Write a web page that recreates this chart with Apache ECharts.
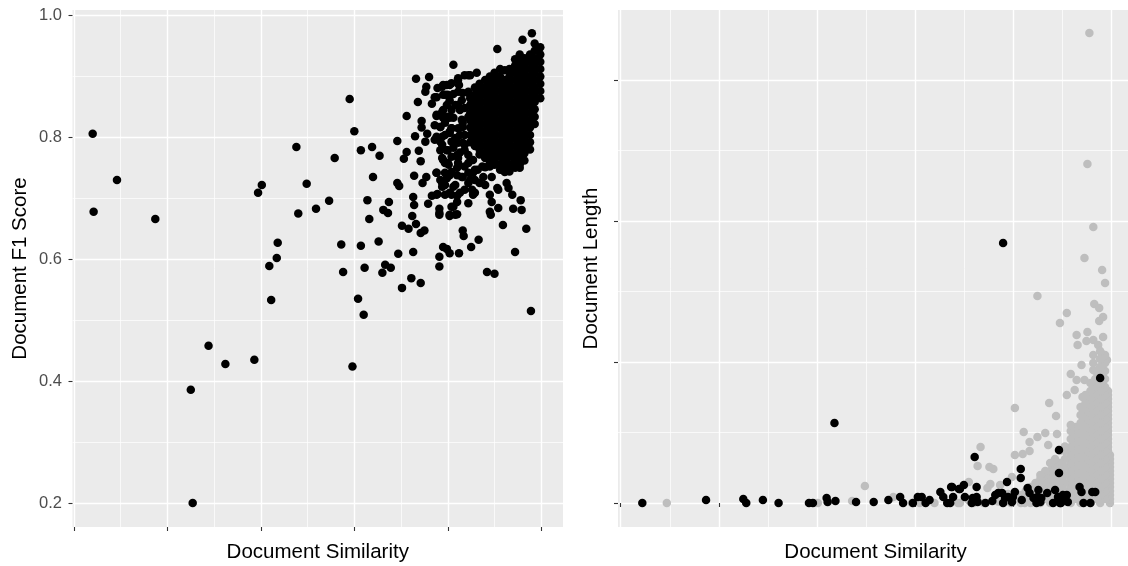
<!DOCTYPE html>
<html>
<head>
<meta charset="utf-8">
<style>html,body{margin:0;padding:0;background:#fff}#c{width:1128px;height:566px}</style>
<script src="https://cdn.jsdelivr.net/npm/echarts@6/dist/echarts.min.js"></script>
</head>
<body>
<div id="c"></div>
<script>
const f1YTicks = [0.2, 0.4, 0.6, 0.8, 1.0];
const f1YMinor = [0.3, 0.5, 0.7, 0.9];
const simTicks = [0.5, 0.6, 0.7, 0.8, 0.9, 1.0];
const simMinor = [0.55, 0.65, 0.75, 0.85, 0.95];
const lenTicks = [0, 5000, 10000, 15000];
const lenMinor = [2500, 7500, 12500];

const f1Sparse = [
[.520,.806],[.546,.730],[.521,.678],[.587,.666],[.625,.386],[.644,.458],[.662,.428],[.693,.435],[.627,.200],[.798,.424],
[.697,.709],[.701,.722],[.738,.784],[.749,.724],[.740,.675],[.759,.683],[.773,.696],[.779,.766],[.711,.533],[.709,.589],
[.717,.602],[.718,.627],[.989,.515],[.786,.624],[.788,.579],[.807,.622],[.811,.586],[.804,.535],[.810,.509],
[.795,.863],[.800,.810],[.807,.779],[.819,.784],[.827,.770],[.820,.735],[.846,.794],[.856,.835],[.866,.896],[.880,.899],
[.877,.883],[.876,.875],[.868,.858],[.883,.855],[.906,.919],[.872,.827],[.872,.816],[.865,.802],[.878,.806],[.876,.793],
[.856,.776],[.853,.765],[.869,.778],[.871,.761],[.864,.737],[.877,.735],[.873,.725],[.846,.725],[.848,.720],[.814,.697],
[.837,.694],[.831,.681],[.836,.676],[.816,.666],[.863,.702],[.864,.689],[.862,.671],[.851,.655],[.866,.658],[.858,.650],
[.871,.643],[.875,.647],[.826,.629],[.847,.609],[.863,.612],[.891,.604],[.891,.588],[.895,.620],[.899,.617],[.902,.610],
[.912,.610],[.925,.620],[.933,.632],[.916,.647],[.917,.638],[.833,.591],[.839,.586],[.830,.578],[.861,.569],[.871,.561],
[.851,.553],[.891,.676],[.891,.683],[.902,.671],[.910,.674],[.906,.686],[.922,.692],[.927,.706],[.879,.691],[.883,.704],
[.889,.707],[.897,.706],[.910,.704],[.902,.709],[.947,.735],[.963,.725],[.965,.717],[.969,.706],[.978,.697],[.970,.683],
[.979,.681],[.953,.717],[.945,.706],[.954,.714],[.947,.694],[.954,.684],[.946,.673],[.950,.576],[.942,.579],[.972,.612],
[.984,.650],[.959,.656],[.945,.678],[.990,.971],[.980,.960],[.953,.945],
[.895,.886],[.889,.881],[.902,.886],[.912,.886],[.911,.897],[.918,.902],[.924,.902],[.931,.906],[.886,.866],[.897,.870],
[.906,.871],[.922,.875],[.908,.853],[.911,.853],[.895,.845],[.888,.835],[.895,.832],[.902,.832],[.915,.829],[.892,.817],
[.904,.815],[.916,.817],[.894,.801],[.886,.796],[.902,.807],[.916,.791],[.894,.788],[.906,.783],[.926,.799],[.895,.763],
[.913,.775],[.900,.758],[.922,.758],[.910,.750],[.888,.742],[.892,.730],[.899,.733],[.916,.735],[.927,.742],[.894,.719],
[.908,.722],[.922,.725],[.934,.725],[.888,.706],[.913,.709],[.926,.714],[.929,.709],[.940,.751],[.938,.735],[.910,.694],
[.904,.686],[.902,.673],[.908,.673],[.891,.673],[.902,.861],[.913,.845],[.924,.853],[.900,.779],[.908,.799],[.911,.766],
[.918,.779],[.904,.743]
];
const f1Fringe = [
[.888,.866],[.894,.883],[.895,.870],[.899,.886],[.904,.889],[.911,.894],[.922,.902],[.900,.870],[.911,.875],[.916,.873],
[.922,.873],[.888,.837],[.894,.842],[.900,.834],[.906,.832],[.897,.824],[.892,.817],[.904,.815],[.911,.815],[.916,.824],
[.922,.834],[.918,.848],[.888,.801],[.892,.793],[.902,.809],[.904,.793],[.911,.791],[.918,.788],[.926,.796],[.894,.766],
[.897,.758],[.904,.768],[.910,.771],[.922,.771],[.927,.763],[.911,.758],[.918,.752],[.897,.742],[.888,.742],[.902,.738],
[.910,.738],[.915,.735],[.929,.747],[.922,.742],[.937,.752],[.945,.752],[.894,.725],[.906,.719],
[.899,.853],[.904,.845],[.897,.804],[.913,.804],[.899,.779],[.892,.779],[.918,.804],[.924,.730],[.932,.747],[.940,.722],
[.929,.730],[.904,.706],[.918,.714],[.897,.722],[.901,.755],[.915,.861],[.886,.820]
];
const f1Cluster = [
[.924,[.864,.852,.840,.828,.816,.804,.792]],
[.929,[.882,.870,.858,.846,.834,.822,.810,.798,.786]],
[.934,[.888,.876,.864,.852,.840,.828,.816,.804,.792,.780,.772]],
[.940,[.894,.882,.870,.858,.846,.834,.822,.810,.798,.786,.774,.766]],
[.945,[.900,.888,.876,.864,.852,.840,.828,.816,.804,.792,.780,.768,.760]],
[.950,[.906,.894,.882,.870,.858,.846,.834,.822,.810,.798,.786,.774,.762,.755]],
[.956,[.912,.900,.888,.876,.864,.852,.840,.828,.816,.804,.792,.780,.768,.756,.747]],
[.961,[.910,.894,.882,.870,.858,.846,.834,.822,.810,.798,.786,.774,.762,.750,.743]],
[.966,[.912,.900,.888,.876,.864,.852,.840,.828,.816,.804,.792,.780,.768,.756,.744]],
[.972,[.928,.918,.906,.894,.882,.870,.858,.846,.834,.822,.810,.798,.786,.774,.762,.750]],
[.977,[.936,.924,.912,.900,.888,.876,.864,.852,.840,.828,.816,.804,.792,.780,.768,.756,.750]],
[.982,[.930,.918,.906,.894,.882,.870,.858,.846,.834,.822,.810,.798,.786,.774,.762]],
[.988,[.936,.924,.912,.900,.888,.876,.864,.852,.840,.828,.816,.804,.792,.780]],
[.993,[.954,.942,.930,.918,.906,.894,.882,.870,.858,.846,.834,.822]],
[.999,[.948,.936,.924,.912,.900,.888,.876,.864]]
];
const lenGraySparse = [
[.978,16666],[.976,12021],[.982,9787],[.973,8688],[.991,8262],[.994,7801],[.925,7340],[.955,6737],[.948,6383],[.983,7057],
[.988,6915],[.992,6596],[.988,6454],[.965,5957],[.976,6064],[.966,5603],[.975,5745],[.982,5780],[.992,5886],[.987,5603],
[.982,5248],[.991,5284],[.996,5071],[.970,4893],[.982,4964],[.982,4716],[.959,4574],[.965,4362],[.973,4362],[.963,4007],
[.955,3830],[.971,3759],[.937,3546],[.902,3369],[.944,3085],[.933,2482],[.925,2340],[.917,2163],[.945,2447],[.911,2518],
[.936,2057],[.917,1844],[.910,1738],[.902,1702],[.867,1986],[.864,1312],[.876,1277],[.880,1206],[.899,922],[.855,745],
[.877,674],[.874,532],[.887,638],[.846,0],[.749,603],[.547,0],[.701,0],[.736,71],[.778,213],[.797,0],[.805,0],[.820,0],
[.844,0],[.855,100],[.870,0],[.885,50],[.890,142],[.895,320],[.905,284],[.898,0],[.912,0],[.860,0]
];
const lenGrayCluster = [
[.999,[0,142,284,425,567,709,851,993,1135,1277,1418,1560,1702]],
[.997,[1844,1986,2128,2270,2411,2553,2695,2837,2979,3120,3262,3404,3546,3688,3830,3972]],
[.994,[142,425,709,993,1277,1560,1844,2128,2411,2695,2979,3262,3546,3830,4113,4397,4681,4964,5248]],
[.989,[0,284,567,851,1135,1418,1702,1986,2270,2553,2837,3120,3404,3688,3972,4255,4539,4823,5106,5390]],
[.984,[142,425,709,993,1277,1560,1844,2128,2411,2695,2979,3262,3546,3830,4113,4397,4681]],
[.979,[0,284,567,851,1135,1418,1702,1986,2270,2553,2837,3120,3404,3688,3972,4255]],
[.974,[142,425,709,993,1277,1560,1844,2128,2411,2695,2979,3262,3546,3830]],
[.969,[0,284,567,851,1135,1418,1702,1986,2270,2553,2837,3120,3404]],
[.964,[142,425,709,993,1277,1560,1844,2128,2411,2695]],
[.959,[0,284,567,851,1135,1418,1702,1986,2270,2553,2766]],
[.953,[142,425,709,993,1277,1560,1844,2000]],
[.948,[0,284,567,851,1135,1418,1850]],
[.943,[142,425,709,993,1277,1560]],
[.938,[0,284,567,851,1135,1420]],
[.933,[142,425,709,993,1135]],
[.928,[0,284,567,851,993]],
[.923,[142,425,709]],
[.918,[0,284,567]],
[.913,[142,425]],
[.908,[0,284]],
[.903,[142]]
];
const lenBlack = [
[.890,9220],[.718,2837],[.989,4433],[.947,1879],[.947,1064],[.861,1631],[.908,1206],[.908,887],[.894,745],
[.522,0],[.587,106],[.625,142],[.628,0],[.645,106],[.661,0],[.692,0],[.696,0],[.710,177],[.711,35],[.719,71],[.740,35],
[.758,35],[.773,106],[.785,213],[.788,0],[.798,0],[.803,213],[.807,213],[.811,0],[.815,106],[.826,390],[.829,213],
[.837,567],[.833,0],[.836,0],[.839,213],[.845,496],[.838,567],[.846,496],[.850,638],[.863,567],[.851,213],[.859,177],
[.863,213],[.858,0],[.864,35],[.872,0],[.879,71],[.882,284],[.885,355],[.890,0],[.889,355],[.892,177],[.895,213],
[.899,35],[.902,390],[.900,213],[.909,106],[.915,532],[.917,355],[.926,461],[.925,213],[.928,35],[.935,355],[.943,461],
[.946,213],[.941,0],[.948,0],[.955,284],[.956,35],[.953,106],[.968,567],[.970,390],[.981,390],[.984,390],[.972,0],[.979,0],
[.921,177],[.924,0],[.929,177],[.949,0],[.951,284]
];

const columnsToPoints = cols => cols.flatMap(([x, ys]) => ys.map(y => [x, y]));

const major = {show:true, lineStyle:{color:'#fff', width:1.4}};
const minor = {show:true, lineStyle:{color:'#fff', width:0.7}};
const tick = {show:true, length:4, lineStyle:{color:'#333', width:1.1}};
const titleStyle = {fontFamily:'Liberation Sans', fontSize:20.5, color:'#000'};
const xRanges = [{min:.4984, max:1.0233},{min:.4972, max:1.0225}];
const yRanges = [{min:.1606, max:1.009},{min:-851, max:17482}];

function xAxes(g){
  return [
    {type:'value', gridIndex:g, position:'bottom', ...xRanges[g], axisLine:{show:false}, axisTick:{...tick, customValues:simTicks},
     axisLabel:{show:false, customValues:simTicks}, splitLine:major, name:'Document Similarity', nameLocation:'middle', nameGap:15, nameTextStyle:titleStyle},
    {type:'value', gridIndex:g, position:'bottom', ...xRanges[g], axisLine:{show:false}, axisTick:{show:false, customValues:simMinor},
     axisLabel:{show:false, customValues:simMinor}, splitLine:minor}
  ];
}
function yAxes(g, ticks, minors, labels, gap, name){
  return [
    {type:'value', gridIndex:g, position:'left', ...yRanges[g], axisLine:{show:false}, axisTick:{...tick, customValues:ticks},
     axisLabel:{show:labels, customValues:ticks, margin:10.5, fontFamily:'Liberation Sans', fontSize:16.5, color:'#4D4D4D', formatter:v=>v.toFixed(1)},
     splitLine:major, name, nameLocation:'middle', nameGap:gap, nameRotate:90, nameTextStyle:titleStyle},
    {type:'value', gridIndex:g, position:'left', ...yRanges[g], axisLine:{show:false}, axisTick:{show:false, customValues:minors},
     axisLabel:{show:false, customValues:minors}, splitLine:minor}
  ];
}
function scatter(name, data, xi, yi, color){
  return {name, type:'scatter', data, xAxisIndex:xi, yAxisIndex:yi, symbolSize:8.5, silent:true, animation:false,
    itemStyle:{color, opacity:1}, clip:true, large:false};
}
const chart = echarts.init(document.getElementById('c'), null, {renderer:'canvas'});
chart.setOption({
  animation:false,
  backgroundColor:'#fff',
  grid:[
    {left:72.5, width:490.5, top:10, height:517, show:true, backgroundColor:'#EBEBEB', borderWidth:0, outerBoundsMode:'none', containLabel:false},
    {left:618, width:515, top:10, height:517, show:true, backgroundColor:'#EBEBEB', borderWidth:0, outerBoundsMode:'none', containLabel:false}
  ],
  xAxis:[...xAxes(0), ...xAxes(1)],
  yAxis:[...yAxes(0, f1YTicks, f1YMinor, true, 42, 'Document F1 Score'), ...yAxes(1, lenTicks, lenMinor, false, 16, 'Document Length')],
  series:[
    scatter('F1 sparse', f1Sparse, 0, 0, '#000'),
    scatter('F1 fringe', f1Fringe, 0, 0, '#000'),
    scatter('F1 cluster', columnsToPoints(f1Cluster), 0, 0, '#000'),
    scatter('Length gray', lenGraySparse, 2, 2, '#BEBEBE'),
    scatter('Length gray cluster', columnsToPoints(lenGrayCluster), 2, 2, '#BEBEBE'),
    scatter('Length black', lenBlack, 2, 2, '#000')
  ]
});
</script>
</body>
</html>
